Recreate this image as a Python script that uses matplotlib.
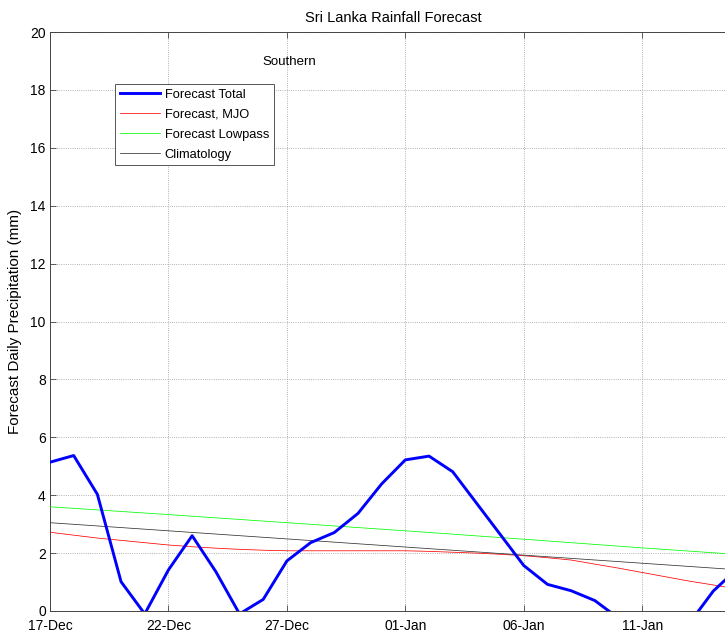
import matplotlib
matplotlib.use("Agg")
import matplotlib.pyplot as plt
import numpy as np

plt.rcParams['font.family'] = ['Liberation Sans', 'DejaVu Sans']

# days since 17-Dec
days = np.arange(30)
total = [5.14, 5.37, 4.03, 1.01, -0.10, 1.42, 2.60, 1.36, -0.10, 0.40,
         1.73, 2.36, 2.71, 3.37, 4.39, 5.22, 5.35, 4.81, 3.73, 2.65,
         1.57, 0.92, 0.70, 0.36, -0.25, -0.60, -0.70, -0.41, 0.69, 1.45]
mjo = [2.72, 2.62, 2.52, 2.44, 2.36, 2.28, 2.22, 2.17, 2.13, 2.10,
       2.08, 2.08, 2.08, 2.08, 2.08, 2.08, 2.06, 2.03, 2.00, 1.96,
       1.91, 1.84, 1.76, 1.62, 1.48, 1.33, 1.18, 1.03, 0.90, 0.76]
coarse_days = [0, 5, 10, 15, 20, 25, 30]
lowpass = [3.60, 3.33, 3.05, 2.77, 2.48, 2.18, 1.90]
clim = [3.05, 2.77, 2.49, 2.21, 1.93, 1.65, 1.37]

tick_days = [0, 5, 10, 15, 20, 25]
tick_labels = ['17-Dec', '22-Dec', '27-Dec', '01-Jan', '06-Jan', '11-Jan']

fig = plt.figure(figsize=(7.25, 6.32), dpi=100)
ax = fig.add_axes([50/725, 21/632, 687/725, 579/632])

ax.plot(days, total, color='#0000ff', lw=2.1, label='Forecast Total', zorder=5)
ax.plot(days, mjo, color='#ff0000', lw=0.55, label='Forecast, MJO', zorder=4)
ax.plot(coarse_days, lowpass, color='#00ff00', lw=0.55, label='Forecast Lowpass', zorder=4)
ax.plot(coarse_days, clim, color='#333333', lw=0.55, label='Climatology', zorder=4)

ax.set_xlim(0, 29)
ax.set_ylim(0, 20)
ax.set_xticks(tick_days)
ax.set_xticklabels(tick_labels)
ax.set_yticks(np.arange(0, 21, 2))
ax.tick_params(direction='in', top=True, right=True, labelsize=10, length=4,
               width=0.6, color='#444444')
ax.tick_params(axis='x', pad=6)
ax.tick_params(axis='y', pad=3)
ax.grid(True, linestyle=':', color='#999999', lw=0.6)
for s in ax.spines.values():
    s.set_color('#444444')
    s.set_linewidth(0.7)

ax.set_ylabel('Forecast Daily Precipitation (mm)', fontsize=11, labelpad=6)
ax.set_title('Sri Lanka Rainfall Forecast', fontsize=10.5, pad=7)
ax.text(10.1, 18.97, 'Southern', ha='center', va='center', fontsize=9.5)

leg = ax.legend(loc='upper left', bbox_to_anchor=(0.0946, 0.910), borderaxespad=0,
                fancybox=False, framealpha=1, edgecolor='#555555', fontsize=9.3,
                handlelength=3.1, handletextpad=0.4, labelspacing=0.62,
                borderpad=0.35)
leg.get_frame().set_linewidth(0.7)

fig.savefig('out.png', dpi=100)
